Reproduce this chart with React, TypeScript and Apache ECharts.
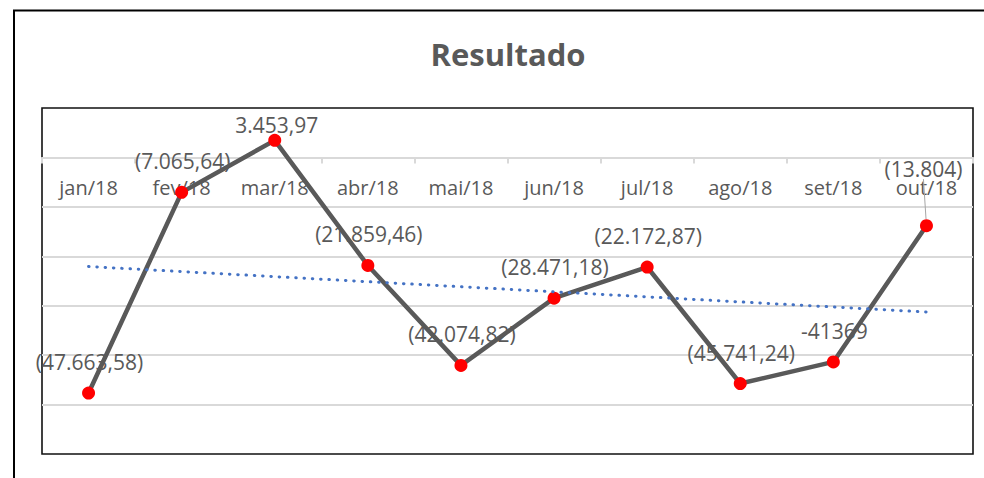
import React, { useEffect, useRef } from "react";
import * as echarts from "echarts";

const categories = ["jan/18", "fev/18", "mar/18", "abr/18", "mai/18", "jun/18", "jul/18", "ago/18", "set/18", "out/18"];
const resultado = [-47663.58, -7065.64, 3453.97, -21859.46, -42074.82, -28471.18, -22172.87, -45741.24, -41369, -13804];
const labelTexts = ["(47.663,58)", "(7.065,64)", "3.453,97", "(21.859,46)", "(42.074,82)", "(28.471,18)", "(22.172,87)", "(45.741,24)", "-41369", "(13.804)"];

const Y_MIN = -60000;
const Y_MAX = 10000;
const Y_STEP = 10000;

// Linear trend (least squares) of the series, as Excel's trendline
function linearTrend(vals: number[]): number[] {
  const n = vals.length;
  const xs = vals.map((_, i) => i + 1);
  const mx = xs.reduce((a, b) => a + b, 0) / n;
  const my = vals.reduce((a, b) => a + b, 0) / n;
  let sxy = 0, sxx = 0;
  for (let i = 0; i < n; i++) {
    sxy += (xs[i] - mx) * (vals[i] - my);
    sxx += (xs[i] - mx) * (xs[i] - mx);
  }
  const b = sxy / sxx;
  const a = my - b * mx;
  return xs.map((x) => +(a + b * x).toFixed(2));
}

const FONT = "'Open Sans', 'Noto Sans', sans-serif";
const W = 984;
const H = 478;
const GRID_TOP = 108;
const GRID_BOTTOM = 24;

export default function App() {
  const ref = useRef<HTMLDivElement>(null);
  useEffect(() => {
    if (!ref.current) return;
    const chart = echarts.init(ref.current, undefined, { renderer: "svg" });
    const trend = linearTrend(resultado);
    const plotH = H - GRID_TOP - GRID_BOTTOM;
    // place the category axis on the zero line of the value axis
    const zeroOffset = -(plotH * (Y_MAX - 0)) / (Y_MAX - Y_MIN);
    chart.setOption({
      animation: false,
      backgroundColor: "#ffffff",
      title: {
        text: "Resultado",
        left: 503,
        textAlign: "center",
        top: 33,
        textStyle: { fontFamily: FONT, fontSize: 31, fontWeight: "bold", color: "#595959" },
      },
      graphic: [
        {
          type: "rect",
          shape: { x: 14, y: 10.5, width: 1000, height: 500 },
          style: { fill: "none", stroke: "#000000", lineWidth: 2 },
          silent: true,
        },
      ],
      grid: {
        left: 42,
        top: GRID_TOP,
        right: 11,
        bottom: GRID_BOTTOM,
        show: true,
        borderColor: "#111111",
        borderWidth: 1.6,
        containLabel: false,
        outerBoundsMode: "none",
      },
      xAxis: {
        type: "category",
        data: categories,
        position: "top",
        offset: zeroOffset,
        boundaryGap: true,
        axisLine: { show: true, onZero: false, lineStyle: { color: "#d9d9d9", width: 2 } },
        axisTick: { show: true, inside: true, length: 6, lineStyle: { color: "#d9d9d9", width: 2 } },
        axisLabel: { inside: true, color: "#595959", fontFamily: FONT, fontSize: 20, margin: 20 },
        splitLine: { show: false },
      },
      yAxis: {
        type: "value",
        min: Y_MIN,
        max: Y_MAX,
        interval: Y_STEP,
        axisLine: { show: false },
        axisTick: { show: false },
        axisLabel: { show: false },
        splitLine: {
          show: true,
          showMinLine: false,
          showMaxLine: false,
          lineStyle: { color: "#d9d9d9", width: 2 },
        },
      },
      series: [
        {
          name: "Resultado",
          type: "line",
          data: resultado.map((v, i) =>
            i === 9
              ? { value: v, labelLine: { show: true, lineStyle: { color: "#a6a6a6", width: 1 } } }
              : v
          ),
          symbol: "circle",
          symbolSize: 13,
          lineStyle: { color: "#595959", width: 4.5 },
          itemStyle: { color: "#ff0000", borderWidth: 0 },
          z: 3,
          label: {
            show: true,
            position: "inside",
            color: "#595959",
            fontFamily: FONT,
            fontSize: 21,
            formatter: (p: any) => labelTexts[p.dataIndex],
          },
          labelLayout: (p: any) => {
            if (p.dataIndex === 2) return { dy: -15, dx: 2 };
            if (p.dataIndex === 9) return { dy: -57, dx: -3 };
            return { dy: -31, dx: 1 };
          },
        },
        {
          name: "Linear (Resultado)",
          type: "line",
          data: trend,
          symbol: "none",
          silent: true,
          z: 4,
          lineStyle: { color: "#4472c4", width: 3, type: [0.5, 7.8], cap: "round" },
        },
      ],
    });
    return () => chart.dispose();
  }, []);
  return <div ref={ref} style={{ position: "absolute", left: 0, top: 0, width: W, height: H }} />;
}
